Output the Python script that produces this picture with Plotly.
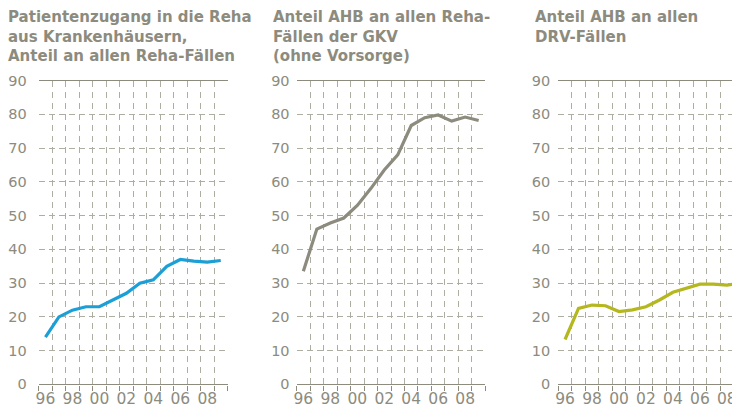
import plotly.graph_objects as go

# ---- data ----
years = list(range(1996, 2010))
reha_aus_krankenhaus = [14, 20, 22, 23, 23, 25, 27, 30, 31, 35, 37, 36.5, 36.2, 36.7]
ahb_gkv = [33.5, 46, 47.8, 49.3, 53, 58, 63.5, 68, 76.7, 79, 79.8, 78, 79.2, 78.2]
ahb_drv = [13.3, 22.5, 23.5, 23.3, 21.6, 22.1, 23, 25, 27.3, 28.6, 29.7, 29.7, 29.4, 30.1]

y_tickvals = [0, 10, 20, 30, 40, 50, 60, 70, 80, 90]
x_tickvals = [1996, 1998, 2000, 2002, 2004, 2006, 2008]
x_ticktext = ["96", "98", "00", "02", "04", "06", "08"]
year_bounds = [y + 0.5 for y in range(1995, 2010)]

titles = [
    "Patientenzugang in die Reha<br>aus Krankenhäusern,<br>Anteil an allen Reha-Fällen",
    "Anteil AHB an allen Reha-<br>Fällen der GKV<br>(ohne Vorsorge)",
    "Anteil AHB an allen<br>DRV-Fällen",
]
series = [reha_aus_krankenhaus, ahb_gkv, ahb_drv]
colors = ["#1c9fd6", "#8c8b7d", "#b5b71f"]

# ---- styling / layout ----
OFF = 8  # page body margin
W, H = 740 - OFF, 418 - OFF
TXT = "#8c8b7e"
AX = "#8c8b7e"
GRID = "#aeada2"
FONT = "DejaVu Sans"

px_per_year = 188.8 / 14.0
# page-pixel positions (converted to figure pixels below)
x_left_page = [38.7, 296.6, 558.3]
title_left_page = [8, 273, 535]
label_standoff = [11, 6, 7]
y0_page, y90_page = 384.4, 80.6

fig = go.Figure()
layout = dict(
    width=W, height=H,
    margin=dict(l=0, r=0, t=0, b=0, autoexpand=False),
    paper_bgcolor="white", plot_bgcolor="white",
    showlegend=False,
    font=dict(family=FONT, color=TXT),
)

y_dom = [(H - (y0_page - OFF)) / H, (H - (y90_page - OFF)) / H]

for i in range(3):
    n = "" if i == 0 else str(i + 1)
    left = x_left_page[i] - OFF
    right = min(left + 188.8, W)
    x_end = 1995.5 + (right - left) / px_per_year
    fig.add_trace(go.Scatter(
        x=years, y=series[i], mode="lines",
        line=dict(color=colors[i], width=3.2),
        xaxis="x" + n, yaxis="y" + n, hoverinfo="skip",
    ))
    layout["xaxis" + n] = dict(
        domain=[left / W, right / W], range=[1995.5, x_end],
        anchor="y" + n, automargin=False,
        tickmode="array", tickvals=x_tickvals, ticktext=x_ticktext,
        ticks="", showgrid=False, zeroline=False,
        showline=True, mirror=True, linecolor=AX, linewidth=1.3,
        tickfont=dict(family=FONT, size=15.5, color=TXT),
        minor=dict(tickmode="array", tickvals=year_bounds, ticks="outside",
                   ticklen=5, tickwidth=1, tickcolor=AX,
                   showgrid=True, gridcolor=GRID, gridwidth=1,
                   griddash="6px,5px"),
    )
    layout["yaxis" + n] = dict(
        domain=y_dom, range=[0, 90],
        anchor="x" + n, automargin=False,
        tickmode="array", tickvals=y_tickvals,
        ticks="", showgrid=True, gridcolor=GRID, gridwidth=1,
        griddash="6px,4px", zeroline=False, showline=False,
        ticklabelstandoff=label_standoff[i],
        tickfont=dict(family=FONT, size=14.5, color=TXT),
    )

annotations = []
for i in range(3):
    annotations.append(dict(
        text=titles[i], xref="paper", yref="paper",
        x=(title_left_page[i] - OFF - 2) / W, y=1 + 2 / H,
        xanchor="left", yanchor="top", align="left", showarrow=False,
        font=dict(family=FONT, size=15, color=TXT, weight="bold"),
    ))
layout["annotations"] = annotations

fig.update_layout(**layout)
fig.write_html("out.html")
